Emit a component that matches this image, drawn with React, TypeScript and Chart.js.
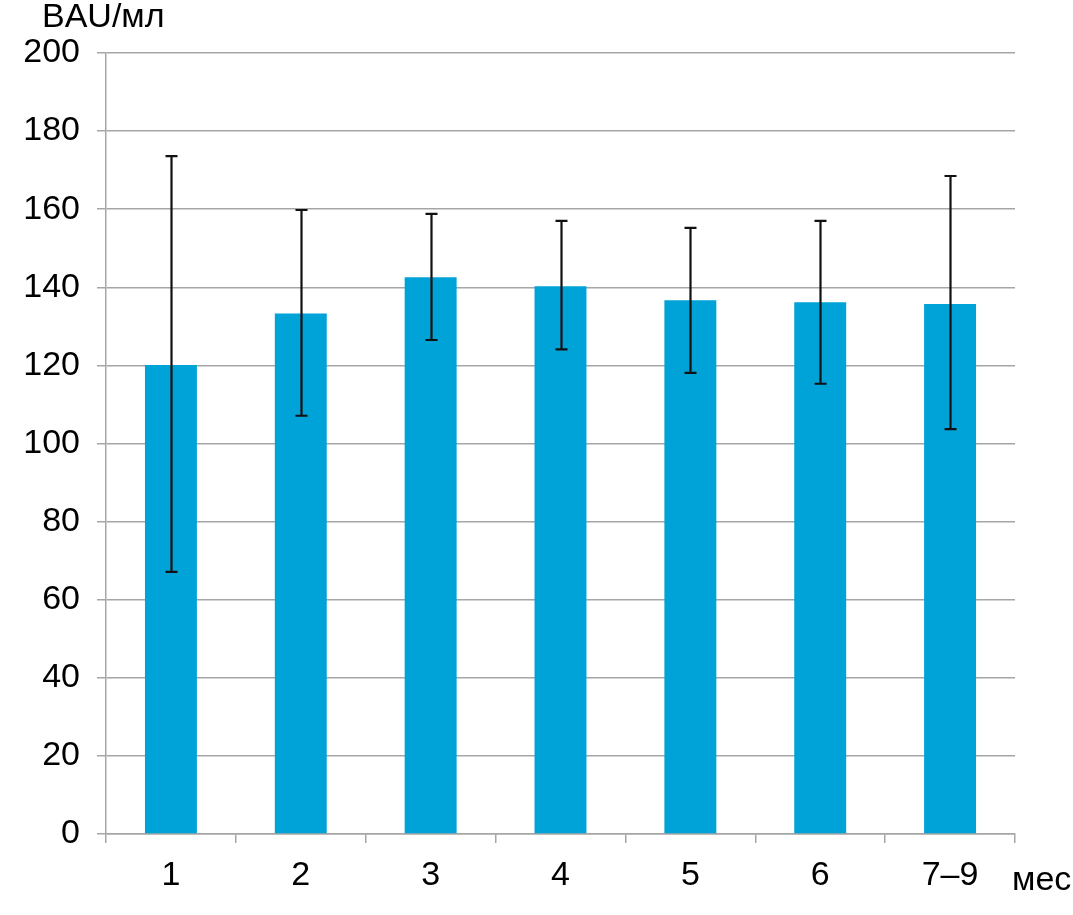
import React, { useEffect, useRef } from "react";
import { Chart, registerables } from "chart.js";

Chart.register(...registerables);

const categories = ["1", "2", "3", "4", "5", "6", "7–9"];
const means = [120.1, 133.3, 142.6, 140.3, 136.7, 136.2, 135.7];
const upper = [173.6, 159.8, 158.8, 157.0, 155.2, 157.0, 168.5];
const lower = [67.1, 107.1, 126.5, 124.1, 118.1, 115.3, 103.7];
const yTicks = [0, 20, 40, 60, 80, 100, 120, 140, 160, 180, 200];
const yUnit = "BAU/мл";
const xUnit = "мес";

const FONT = "'Liberation Sans', Arial, sans-serif";
const GRID = "#a6a6a6";
const FS = 34;

const errorBarPlugin = {
  id: "errorBars",
  afterDatasetsDraw(chart: any) {
    const ctx = chart.ctx;
    const x = chart.scales.x;
    const y = chart.scales.y;
    ctx.save();
    ctx.strokeStyle = "#111111";
    ctx.lineWidth = 2.2;
    categories.forEach((_, i) => {
      const px = Math.round(x.getPixelForValue(i)) + 0.5;
      const pt = y.getPixelForValue(upper[i]);
      const pb = y.getPixelForValue(lower[i]);
      ctx.beginPath();
      ctx.moveTo(px, pt);
      ctx.lineTo(px, pb);
      ctx.moveTo(px - 6, pt);
      ctx.lineTo(px + 6, pt);
      ctx.moveTo(px - 6, pb);
      ctx.lineTo(px + 6, pb);
      ctx.stroke();
    });
    ctx.restore();
  },
};

const unitsPlugin = {
  id: "units",
  afterDraw(chart: any) {
    const ctx = chart.ctx;
    const area = chart.chartArea;
    ctx.save();
    ctx.fillStyle = "#000000";
    ctx.font = `${FS}px ${FONT}`;
    ctx.textBaseline = "alphabetic";
    ctx.textAlign = "left";
    ctx.fillText(yUnit, area.left - 64, area.top - 26);
    ctx.fillText(xUnit, area.right - 3, area.bottom + 56);
    ctx.restore();
  },
};

export default function App() {
  const ref = useRef<HTMLCanvasElement | null>(null);
  useEffect(() => {
    if (!ref.current) return;
    const chart = new Chart(ref.current, {
      type: "bar",
      data: {
        labels: categories,
        datasets: [
          {
            data: means,
            backgroundColor: "#00a3d8",
            borderWidth: 0,
            barPercentage: 0.4,
            categoryPercentage: 1,
          },
        ],
      },
      options: {
        animation: false,
        responsive: false,
        maintainAspectRatio: false,
        layout: { padding: { top: 53, right: 58, left: 0, bottom: 0 } },
        plugins: { legend: { display: false }, tooltip: { enabled: false } },
        scales: {
          x: {
            grid: {
              display: true,
              drawOnChartArea: false,
              drawTicks: true,
              tickLength: 9,
              color: GRID,
              lineWidth: 1.5,
              offset: true,
            },
            border: { display: true, color: GRID, width: 1.5 },
            ticks: {
              color: "#000000",
              font: { family: FONT, size: FS },
              padding: 12,
              maxRotation: 0,
              autoSkip: false,
            },
            afterFit(scale: any) {
              scale.height = 81;
            },
          },
          y: {
            min: 0,
            max: 200,
            afterBuildTicks(scale: any) {
              scale.ticks = yTicks.map((v) => ({ value: v }));
            },
            grid: {
              color: GRID,
              lineWidth: 1.5,
              drawTicks: true,
              tickLength: 9,
            },
            border: { display: true, color: GRID, width: 1.5 },
            ticks: {
              color: "#000000",
              font: { family: FONT, size: FS },
              padding: 17,
            },
            afterFit(scale: any) {
              scale.width = 106;
            },
          },
        },
      },
      plugins: [errorBarPlugin, unitsPlugin],
    });
    return () => chart.destroy();
  }, []);
  return (
    <div style={{ position: "fixed", left: 0, top: 0, width: 1073, height: 915, background: "#ffffff" }}>
      <canvas ref={ref} width={1073} height={915} style={{ width: 1073, height: 915 }} />
    </div>
  );
}
